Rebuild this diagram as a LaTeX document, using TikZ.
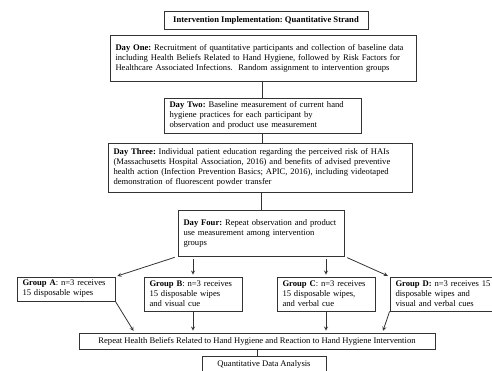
\documentclass[tikz,border=0pt]{standalone}
\usepackage{fontspec}
\setmainfont{Liberation Serif}
\usetikzlibrary{arrows}
\frenchspacing

\begin{document}
\begin{tikzpicture}[
    x=1pt, y=-1pt,
    box/.style={rectangle, draw=black!80, line width=0.8pt, inner xsep=5.5pt, inner ysep=2pt, font=\fontsize{8.6}{10}\selectfont},
    daybox/.style={box, align=left},
    headbox/.style={box, align=center},
    link/.style={line width=0.8pt, draw=black!80},
    arrow/.style={link, ->, >=stealth, shorten >=2pt}
]
\clip (0,0) rectangle (492,371);

\node[headbox, minimum width=204pt, minimum height=18pt] (title) at (266,20) {\textbf{Intervention Implementation: Quantitative Strand}};

\node[daybox, text width=295pt, minimum height=46pt] (dayone) at (263,58) {\textbf{Day One:} Recruitment of quantitative participants and collection of baseline data\\ including Health Beliefs Related to Hand Hygiene, followed by Risk Factors for\\ Healthcare Associated Infections.\ \ Random assignment to intervention groups};

\node[daybox, text width=186pt, minimum height=35pt] (daytwo) at (262.5,115.5) {\textbf{Day Two:} Baseline measurement of current hand\\ hygiene practices for each participant by\\ observation and product use measurement};

\node[daybox, text width=293pt, minimum height=49pt] (daythree) at (260,167.5) {\textbf{Day Three:} Individual patient education regarding the perceived risk of HAIs\\ (Massachusetts Hospital Association, 2016) and benefits of advised preventive\\ health action (Infection Prevention Basics; APIC, 2016), including videotaped\\ demonstration of fluorescent powder transfer};

\node[daybox, text width=155pt, minimum height=46pt] (dayfour) at (261,233) {\textbf{Day Four:} Repeat observation and product\\ use measurement among intervention\\ groups};

% intervention groups
\node[daybox, text width=87pt, minimum height=24pt] (groupA) at (66,289) {\textbf{Group A}: n=3 receives\\ 15 disposable wipes};
\node[daybox, text width=87pt, minimum height=34pt] (groupB) at (193,294) {\textbf{Group B}: n=3 receives\\ 15 disposable wipes\\ and visual cue};
\node[daybox, text width=87pt, minimum height=34pt] (groupC) at (326,294) {\textbf{Group C}: n=3 receives\\ 15 disposable wipes,\\ and verbal cue};
\node[daybox, text width=104pt, minimum height=34pt] (groupD) at (447.5,294) {\textbf{Group D:} n=3 receives 15\\ disposable wipes and\\ visual and verbal cues};

\node[headbox, minimum width=356pt, minimum height=16pt] (repeat) at (257,341) {Repeat Health Beliefs Related to Hand Hygiene and Reaction to Hand Hygiene Intervention};
\node[headbox, minimum width=124pt, minimum height=16pt] (analysis) at (264,364) {Quantitative Data Analysis};

\draw[link] (dayone.south -| daytwo.north) -- (daytwo.north);
\draw[link] (daytwo.south) -- (daytwo.south |- daythree.north);
\draw[link] (daythree.south -| dayfour.north) -- (dayfour.north);

\draw[arrow, shorten <=3pt] (dayfour.south west) -- (groupA.north east);
\draw[arrow, shorten <=3pt] (groupB.north |- dayfour.south) -- (groupB.north);
\draw[arrow, shorten <=3pt] (groupC.north |- dayfour.south) -- (groupC.north);
\draw[arrow, shorten <=3pt] (dayfour.south east) -- (groupD.north west);

\draw[arrow] (groupA.south east) -- ([xshift=56pt]repeat.north west);
\draw[arrow] (groupB.south) -- (groupB.south |- repeat.north);
\draw[arrow] (groupC.south) -- (groupC.south |- repeat.north);
\draw[arrow] (groupD.south west) -- ([xshift=-53pt]repeat.north east);

\draw[link] (repeat.south) -- (repeat.south |- analysis.north);

\end{tikzpicture}
\end{document}
